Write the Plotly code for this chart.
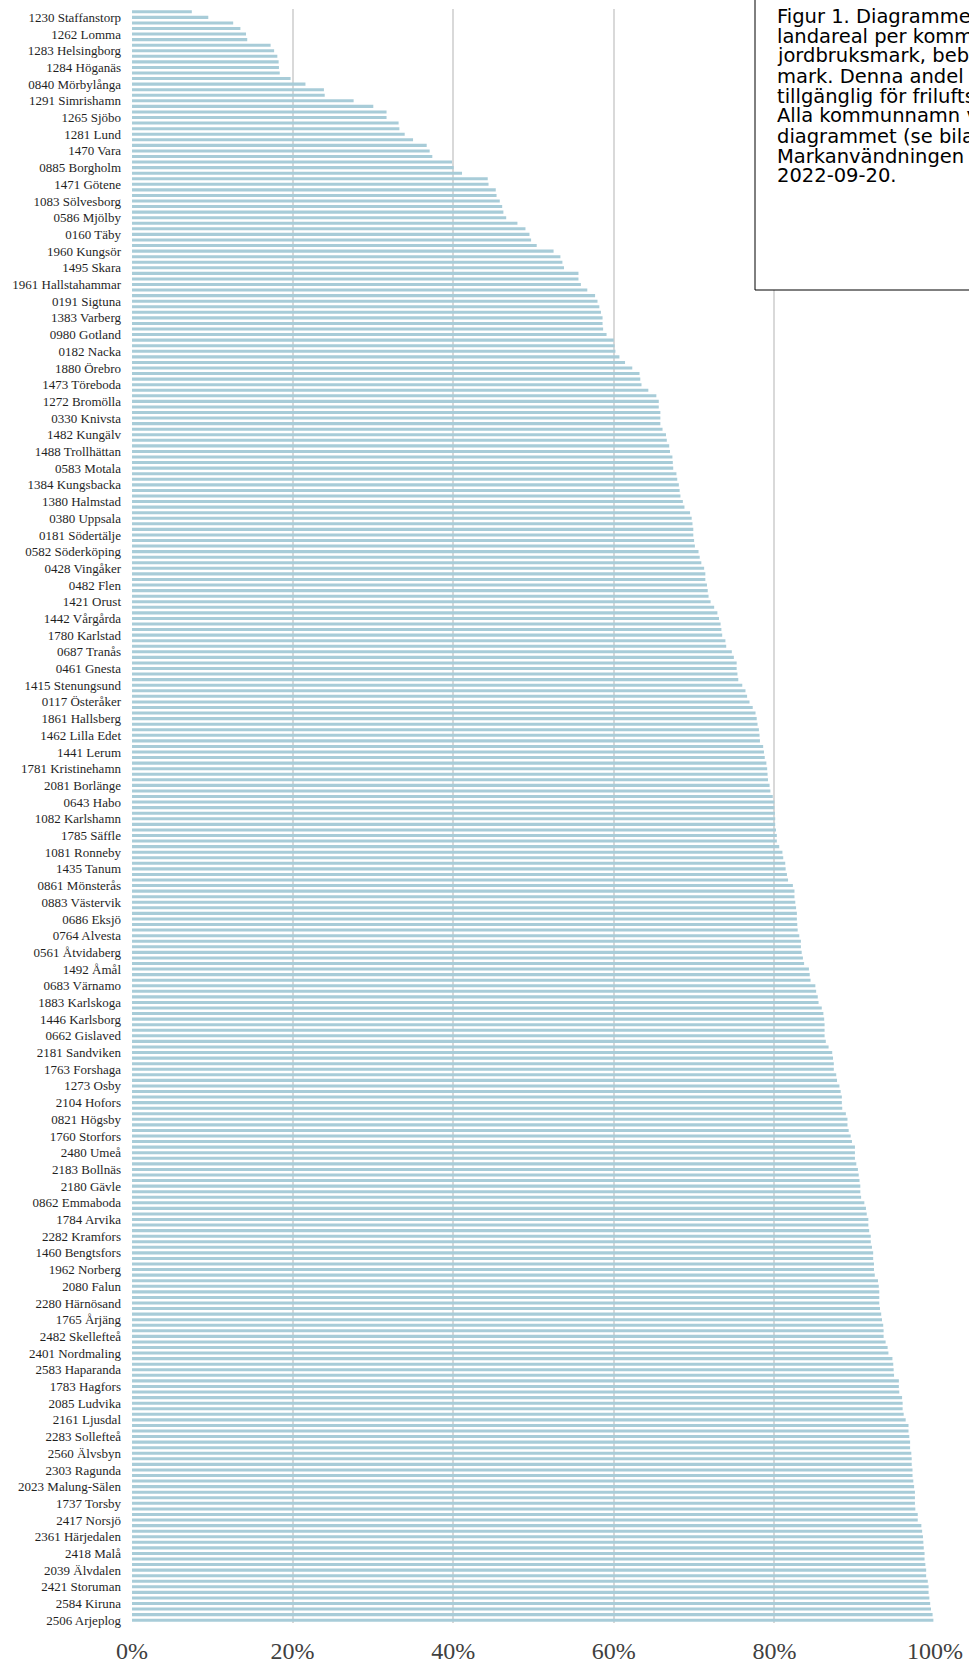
import plotly.graph_objects as go

# ---- data -------------------------------------------------------------
# Share (%) of land area per municipality, sorted ascending (290 municipalities)
values = [
    7.45, 9.5, 12.6, 13.5, 14.2, 14.35, 17.26, 17.7, 18.1, 18.26,
    18.3, 18.4, 19.75, 21.6, 23.9, 24.0, 27.6, 30.05, 31.7, 31.7,
    33.2, 33.3, 33.96, 35.0, 36.7, 37.07, 37.4, 39.85, 40.06, 41.1,
    44.3, 44.4, 45.3, 45.4, 45.8, 46.1, 46.25, 46.6, 48.0, 49.0,
    49.5, 49.7, 50.4, 52.5, 53.35, 53.6, 53.8, 55.6, 55.6, 55.9,
    56.7, 57.67, 57.97, 58.2, 58.4, 58.6, 58.6, 58.67, 59.1, 60.0,
    60.1, 60.2, 60.7, 61.4, 62.3, 63.2, 63.3, 63.45, 64.3, 65.3,
    65.6, 65.6, 65.8, 65.8, 65.8, 66.07, 66.5, 66.6, 66.9, 67.0,
    67.3, 67.35, 67.4, 67.8, 67.9, 68.1, 68.2, 68.3, 68.6, 68.8,
    69.5, 69.7, 69.8, 69.9, 69.9, 70.0, 70.1, 70.55, 70.7, 70.9,
    71.25, 71.4, 71.4, 71.6, 71.7, 71.8, 72.05, 72.5, 72.9, 73.1,
    73.3, 73.4, 73.5, 73.9, 74.0, 74.7, 74.95, 75.3, 75.3, 75.4,
    75.5, 76.0, 76.4, 76.6, 76.9, 77.3, 77.65, 77.8, 77.9, 78.07,
    78.15, 78.2, 78.6, 78.7, 78.8, 79.0, 79.1, 79.15, 79.2, 79.4,
    79.5, 79.8, 80.0, 80.0, 80.06, 80.1, 80.1, 80.2, 80.3, 80.3,
    80.6, 81.0, 81.1, 81.35, 81.4, 81.56, 81.7, 82.3, 82.5, 82.5,
    82.6, 82.7, 82.8, 82.8, 82.85, 82.9, 83.1, 83.3, 83.3, 83.4,
    83.55, 83.7, 84.3, 84.4, 84.5, 85.1, 85.2, 85.4, 85.5, 85.9,
    86.1, 86.2, 86.25, 86.25, 86.25, 86.4, 86.75, 87.2, 87.3, 87.4,
    87.4, 87.7, 87.8, 88.1, 88.25, 88.4, 88.4, 88.45, 88.9, 89.1,
    89.1, 89.25, 89.5, 89.66, 90.03, 90.03, 90.03, 90.2, 90.4, 90.5,
    90.6, 90.7, 90.7, 90.8, 91.2, 91.4, 91.5, 91.7, 91.7, 91.8,
    92.0, 92.0, 92.15, 92.3, 92.3, 92.4, 92.4, 92.5, 92.9, 93.0,
    93.06, 93.06, 93.06, 93.15, 93.3, 93.4, 93.55, 93.6, 93.6, 93.85,
    94.1, 94.2, 94.7, 94.8, 94.85, 94.9, 95.5, 95.5, 95.55, 95.9,
    95.97, 95.97, 96.1, 96.35, 96.7, 96.7, 96.8, 96.9, 96.9, 97.05,
    97.1, 97.1, 97.2, 97.2, 97.3, 97.4, 97.5, 97.5, 97.5, 97.55,
    97.85, 97.85, 98.3, 98.4, 98.5, 98.55, 98.6, 98.7, 98.7, 98.8,
    98.9, 98.9, 99.1, 99.2, 99.2, 99.3, 99.4, 99.5, 99.7, 99.8,
]

# Municipality labels shown on the axis (every third bar, starting with the 2nd)
labels = [
    "1230 Staffanstorp", "1262 Lomma", "1283 Helsingborg", "1284 Höganäs",
    "0840 Mörbylånga", "1291 Simrishamn", "1265 Sjöbo", "1281 Lund",
    "1470 Vara", "0885 Borgholm", "1471 Götene", "1083 Sölvesborg",
    "0586 Mjölby", "0160 Täby", "1960 Kungsör", "1495 Skara",
    "1961 Hallstahammar", "0191 Sigtuna", "1383 Varberg", "0980 Gotland",
    "0182 Nacka", "1880 Örebro", "1473 Töreboda", "1272 Bromölla",
    "0330 Knivsta", "1482 Kungälv", "1488 Trollhättan", "0583 Motala",
    "1384 Kungsbacka", "1380 Halmstad", "0380 Uppsala", "0181 Södertälje",
    "0582 Söderköping", "0428 Vingåker", "0482 Flen", "1421 Orust",
    "1442 Vårgårda", "1780 Karlstad", "0687 Tranås", "0461 Gnesta",
    "1415 Stenungsund", "0117 Österåker", "1861 Hallsberg", "1462 Lilla Edet",
    "1441 Lerum", "1781 Kristinehamn", "2081 Borlänge", "0643 Habo",
    "1082 Karlshamn", "1785 Säffle", "1081 Ronneby", "1435 Tanum",
    "0861 Mönsterås", "0883 Västervik", "0686 Eksjö", "0764 Alvesta",
    "0561 Åtvidaberg", "1492 Åmål", "0683 Värnamo", "1883 Karlskoga",
    "1446 Karlsborg", "0662 Gislaved", "2181 Sandviken", "1763 Forshaga",
    "1273 Osby", "2104 Hofors", "0821 Högsby", "1760 Storfors",
    "2480 Umeå", "2183 Bollnäs", "2180 Gävle", "0862 Emmaboda",
    "1784 Arvika", "2282 Kramfors", "1460 Bengtsfors", "1962 Norberg",
    "2080 Falun", "2280 Härnösand", "1765 Årjäng", "2482 Skellefteå",
    "2401 Nordmaling", "2583 Haparanda", "1783 Hagfors", "2085 Ludvika",
    "2161 Ljusdal", "2283 Sollefteå", "2560 Älvsbyn", "2303 Ragunda",
    "2023 Malung-Sälen", "1737 Torsby", "2417 Norsjö", "2361 Härjedalen",
    "2418 Malå", "2039 Älvdalen", "2421 Storuman", "2584 Kiruna",
    "2506 Arjeplog",
]

x_ticks = [0, 20, 40, 60, 80, 100]
x_ticktext = ["0%", "20%", "40%", "60%", "80%", "100%"]

caption_lines = [
    "Figur 1. Diagrammet visar",
    "landareal per kommun som",
    "jordbruksmark, bebyggd",
    "mark. Denna andel är",
    "tillgänglig för friluftsliv",
    "Alla kommunnamn visas",
    "diagrammet (se bilaga)",
    "Markanvändningen avser",
    "2022-09-20.",
]

# ---- layout geometry ---------------------------------------------------
W, H = 969, 1663
ML, MR, MT, MB = 132, 34, 9, 40
PW, PH = W - ML - MR, H - MT - MB

positions = list(range(len(values)))
label_pos = positions[1::3]

fig = go.Figure()
fig.add_trace(go.Bar(
    x=values,
    y=positions,
    orientation="h",
    marker=dict(color="#A8CCD8", line=dict(width=0)),
    hoverinfo="x",
))

fig.update_layout(
    width=W, height=H,
    margin=dict(l=ML, r=MR, t=MT, b=MB, pad=0, autoexpand=False),
    paper_bgcolor="white",
    plot_bgcolor="white",
    bargap=0.45,
    showlegend=False,
    font=dict(family="Liberation Serif", color="#333333"),
)

fig.update_xaxes(
    range=[0, 100],
    tickvals=x_ticks,
    ticktext=x_ticktext,
    showgrid=True,
    gridcolor="#D9D9D9",
    gridwidth=2,
    zeroline=False,
    showline=False,
    ticks="outside",
    ticklen=6,
    tickcolor="rgba(0,0,0,0)",
    tickfont=dict(family="Liberation Serif", size=24, color="#404040"),
    automargin=False,
    fixedrange=True,
)

fig.update_yaxes(
    range=[len(values) - 0.5, -0.5],
    tickvals=label_pos,
    ticktext=labels,
    showgrid=False,
    zeroline=False,
    showline=False,
    ticks="",
    tickfont=dict(family="Liberation Serif", size=13, color="#1f1f1f"),
    ticklabelstandoff=10,
    automargin=False,
    fixedrange=True,
)

# ---- caption box (partly running off the right edge, as in the source) ----
def px_to_paper_x(px):
    return (px - ML) / PW

def px_to_paper_y(py):
    return 1 - (py - MT) / PH

box_left, box_top, box_bottom = 755, -5, 290
fig.add_shape(
    type="rect", xref="paper", yref="paper",
    x0=px_to_paper_x(box_left), x1=px_to_paper_x(W + 20),
    y0=px_to_paper_y(box_bottom), y1=px_to_paper_y(box_top),
    line=dict(color="black", width=1),
    fillcolor="white",
    layer="above",
)

text_left = 776
first_center = 16
line_step = 20
for i, line in enumerate(caption_lines):
    fig.add_annotation(
        xref="paper", yref="paper",
        x=px_to_paper_x(text_left),
        y=px_to_paper_y(first_center + i * line_step),
        xanchor="left", yanchor="middle",
        text=line,
        showarrow=False,
        align="left",
        font=dict(family="DejaVu Sans", size=19.5, color="black"),
        borderpad=0,
    )

fig.write_html(
    "out.html",
    config={"displayModeBar": False},
    post_script="document.body.style.margin='0';document.body.style.overflow='hidden';",
)
